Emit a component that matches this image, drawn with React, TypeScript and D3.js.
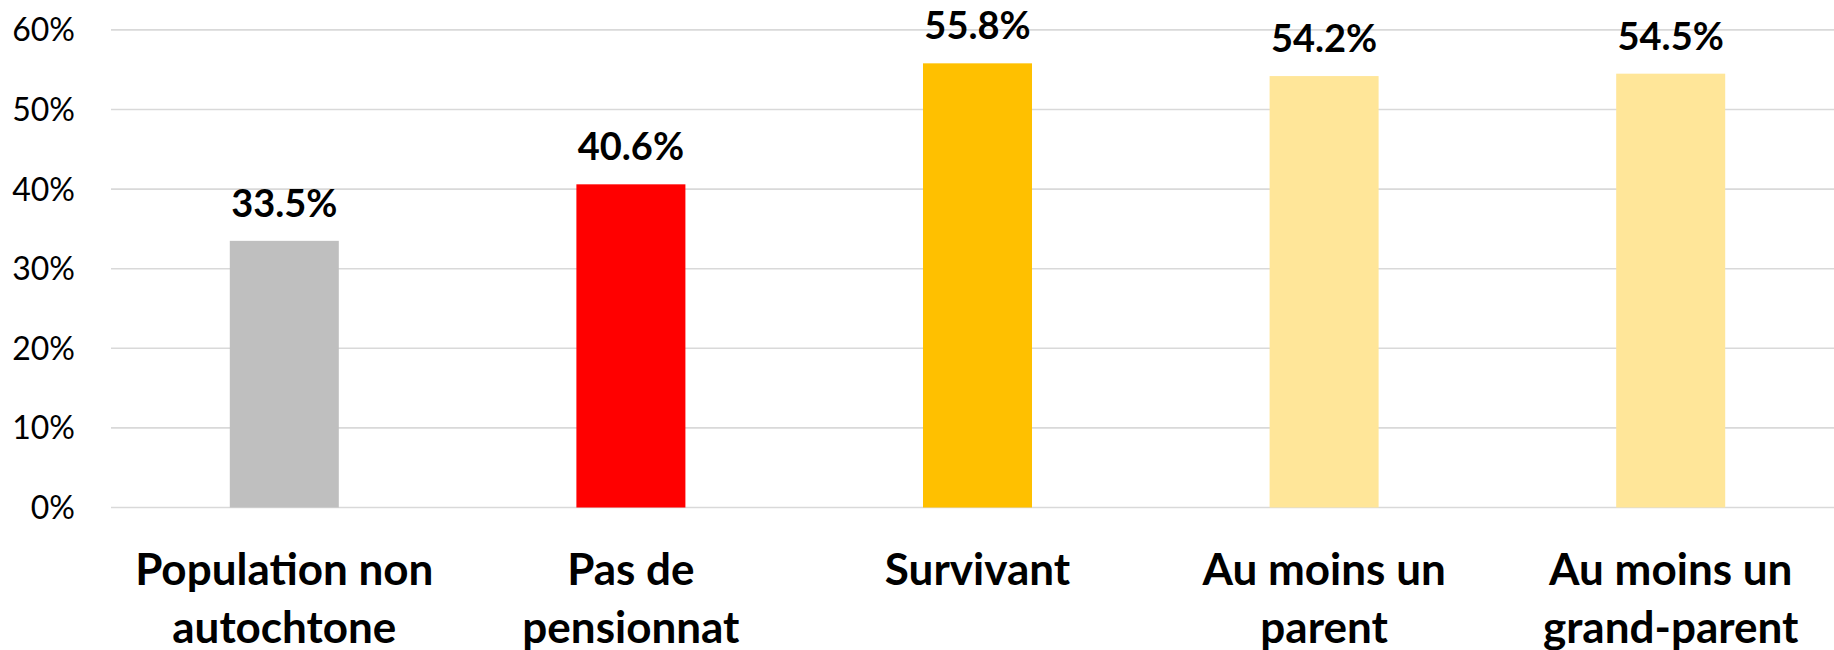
import React from "react";
import * as d3 from "d3";

const categories: string[][] = [
  ["Population non", "autochtone"],
  ["Pas de", "pensionnat"],
  ["Survivant"],
  ["Au moins un", "parent"],
  ["Au moins un", "grand-parent"],
];
const values: number[] = [33.5, 40.6, 55.8, 54.2, 54.5];
const barColors: string[] = ["#BFBFBF", "#FF0000", "#FFC000", "#FFE699", "#FFE699"];
const yTicks: number[] = [0, 10, 20, 30, 40, 50, 60];

const W = 1834;
const H = 650;
const FONT = "Lato, 'Open Sans', sans-serif";

export default function App() {
  const keys = categories.map((c) => c.join(" "));
  const x = d3
    .scaleBand<string>()
    .domain(keys)
    .range([111, 1844])
    .paddingInner(0.6855)
    .paddingOuter(0.6855 / 2);
  const y = d3.scaleLinear().domain([0, 60]).range([507.5, 29.9]);

  return (
    <svg
      width={W}
      height={H}
      style={{ position: "absolute", left: 0, top: 0, background: "#fff" }}
    >
      <g>
        {yTicks.map((t) => (
          <g key={t}>
            <line
              x1={111}
              x2={W}
              y1={y(t)}
              y2={y(t)}
              stroke="#D9D9D9"
              strokeWidth={1.6}
            />
            <text
              x={75}
              y={y(t)}
              dy="0.36em"
              textAnchor="end"
              fontFamily={FONT}
              fontSize={32}
              fill="#000"
            >
              {t}%
            </text>
          </g>
        ))}
      </g>
      <g>
        {values.map((v, i) => {
          const k = keys[i];
          const bx = x(k) as number;
          const bw = x.bandwidth();
          return (
            <g key={k}>
              <rect
                x={bx}
                y={y(v)}
                width={bw}
                height={y(0) - y(v)}
                fill={barColors[i]}
              />
              <text
                x={bx + bw / 2}
                y={y(v) - 24}
                textAnchor="middle"
                fontFamily={FONT}
                fontWeight={700}
                fontSize={38}
                fill="#000"
              >
                {v.toFixed(1)}%
              </text>
              {categories[i].map((line, j) => (
                <text
                  key={j}
                  x={bx + bw / 2}
                  y={585 + j * 58}
                  textAnchor="middle"
                  fontFamily={FONT}
                  fontWeight={700}
                  fontSize={44}
                  fill="#000"
                >
                  {line}
                </text>
              ))}
            </g>
          );
        })}
      </g>
    </svg>
  );
}
